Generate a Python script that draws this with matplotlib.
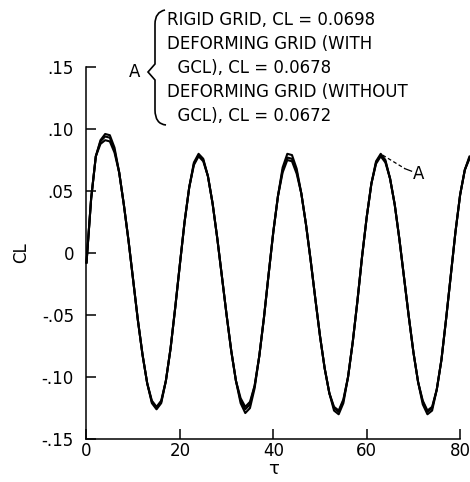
import numpy as np
import matplotlib
matplotlib.use("Agg")
import matplotlib.pyplot as plt
from matplotlib.path import Path
from matplotlib.patches import PathPatch

plt.rcParams['font.family'] = ['DejaVu Sans']

# time samples (tau) and lift coefficient
TAU = np.arange(0, 83)

CL_RIGID = [
    -0.008, 0.044, 0.078, 0.090, 0.094, 0.093, 0.083, 0.065, 0.039, 0.010,
    -0.022, -0.054, -0.082, -0.105, -0.120, -0.125, -0.120, -0.103, -0.077, -0.044,
    -0.009, 0.025, 0.053, 0.072, 0.079, 0.075, 0.062, 0.040, 0.012, -0.019,
    -0.050, -0.079, -0.103, -0.119, -0.126, -0.122, -0.107, -0.083, -0.052, -0.017,
    0.017, 0.046, 0.067, 0.077, 0.076, 0.066, 0.048, 0.023, -0.006, -0.037,
    -0.067, -0.093, -0.113, -0.125, -0.128, -0.119, -0.100, -0.072, -0.039, -0.003,
    0.029, 0.056, 0.073, 0.079, 0.074, 0.060, 0.039, 0.011, -0.020, -0.051,
    -0.080, -0.104, -0.120, -0.128, -0.125, -0.110, -0.086, -0.053, -0.018, 0.017,
    0.047, 0.067, 0.077]

CL_WITH_GCL = [
    -0.008, 0.044, 0.078, 0.088, 0.091, 0.090, 0.081, 0.065, 0.039, 0.010,
    -0.022, -0.054, -0.082, -0.105, -0.119, -0.124, -0.119, -0.103, -0.077, -0.044,
    -0.009, 0.025, 0.053, 0.071, 0.078, 0.074, 0.062, 0.040, 0.012, -0.019,
    -0.050, -0.079, -0.103, -0.117, -0.124, -0.120, -0.107, -0.083, -0.052, -0.017,
    0.017, 0.046, 0.065, 0.075, 0.074, 0.064, 0.048, 0.023, -0.006, -0.037,
    -0.067, -0.093, -0.113, -0.124, -0.127, -0.118, -0.100, -0.072, -0.039, -0.003,
    0.029, 0.056, 0.072, 0.078, 0.073, 0.060, 0.039, 0.011, -0.020, -0.051,
    -0.080, -0.104, -0.119, -0.127, -0.124, -0.110, -0.086, -0.053, -0.018, 0.017,
    0.047, 0.067, 0.076]

CL_WITHOUT_GCL = [
    -0.008, 0.044, 0.078, 0.091, 0.096, 0.095, 0.085, 0.065, 0.039, 0.010,
    -0.022, -0.054, -0.082, -0.105, -0.121, -0.126, -0.121, -0.103, -0.077, -0.044,
    -0.009, 0.025, 0.053, 0.073, 0.080, 0.076, 0.062, 0.040, 0.012, -0.019,
    -0.050, -0.079, -0.103, -0.121, -0.129, -0.125, -0.109, -0.083, -0.052, -0.017,
    0.017, 0.046, 0.069, 0.080, 0.079, 0.068, 0.048, 0.023, -0.006, -0.037,
    -0.067, -0.093, -0.113, -0.127, -0.130, -0.121, -0.100, -0.072, -0.039, -0.003,
    0.029, 0.056, 0.074, 0.080, 0.075, 0.060, 0.039, 0.011, -0.020, -0.051,
    -0.080, -0.104, -0.122, -0.130, -0.127, -0.110, -0.086, -0.053, -0.018, 0.017,
    0.047, 0.067, 0.078]

X_TICKS = [0, 20, 40, 60, 80]
Y_TICKS = [-0.15, -0.10, -0.05, 0, 0.05, 0.10, 0.15]
Y_LABELS = ['-.15', '-.10', '-.05', '0', '.05', '.10', '.15']

LEGEND_LINES = [
    "RIGID GRID, CL = 0.0698",
    "DEFORMING GRID (WITH",
    "  GCL), CL = 0.0678",
    "DEFORMING GRID (WITHOUT",
    "  GCL), CL = 0.0672",
]

fig = plt.figure(figsize=(4.70, 4.82), dpi=100)
ax = fig.add_axes([0.184, 0.089, 0.795, 0.772])

for cl in (CL_RIGID, CL_WITH_GCL, CL_WITHOUT_GCL):
    ax.plot(TAU, cl, color='black', lw=1.5, clip_on=False,
            solid_capstyle='round', solid_joinstyle='round')

ax.set_xlim(0, 80)
ax.set_ylim(-0.15, 0.15)
ax.spines['top'].set_visible(False)
ax.spines['right'].set_visible(False)
for s in ('left', 'bottom'):
    ax.spines[s].set_linewidth(1.1)

ax.set_xticks(X_TICKS)
ax.set_yticks(Y_TICKS)
ax.set_yticklabels(Y_LABELS)
ax.tick_params(direction='in', length=7, width=1.1, labelsize=12)
ax.tick_params(axis='x', pad=2)
ax.tick_params(axis='y', pad=9)

ax.set_xlabel('τ', fontsize=13, labelpad=0)
ax.set_ylabel('CL', fontsize=12, labelpad=8)

# leader to the label "A"
ax.plot([63.4, 68.2], [0.079, 0.068], color='black', lw=0.9, ls=(0, (3, 2)), clip_on=False)
ax.plot([68.2, 69.6], [0.068, 0.066], color='black', lw=0.9, clip_on=False)
ax.text(71.0, 0.064, 'A', fontsize=12, ha='center', va='center')

# key text with brace
line_y = [20, 44, 68, 92, 116]
for txt, yp in zip(LEGEND_LINES, line_y):
    fig.text(167 / 470, 1 - yp / 482, txt, fontsize=12, ha='left', va='center')
fig.text(135 / 470, 1 - 72 / 482, 'A', fontsize=12, ha='center', va='center')

pts = [(165, 10), (155, 12), (155, 24),
       (155, 64), (148, 72),
       (155, 80), (155, 110),
       (155, 124), (166, 125)]
verts = [(x / 470, 1 - y / 482) for x, y in pts]
codes = [Path.MOVETO, Path.CURVE3, Path.CURVE3, Path.LINETO, Path.LINETO,
         Path.LINETO, Path.LINETO, Path.CURVE3, Path.CURVE3]
brace = PathPatch(Path(verts, codes), transform=fig.transFigure, fill=False,
                  lw=1.2, edgecolor='black')
fig.patches.append(brace)

fig.savefig('out.png', dpi=100)
